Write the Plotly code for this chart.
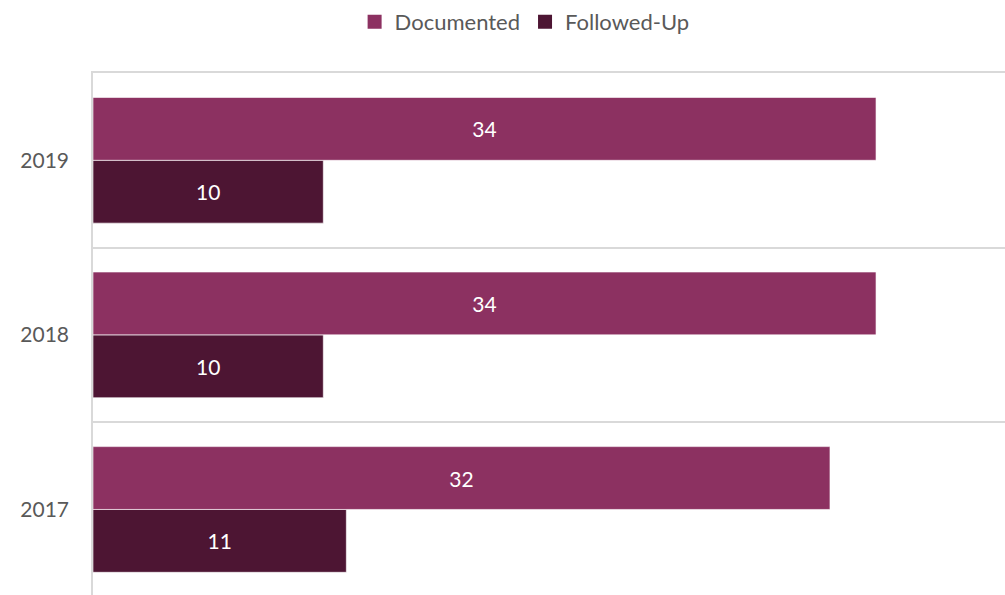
import plotly.graph_objects as go

years = ["2017", "2018", "2019"]
documented = [32, 34, 34]
followed_up = [11, 10, 10]

col_doc = "#8C3161"
col_fu = "#4D1533"
font_family = "Lato, 'Open Sans', sans-serif"

fig = go.Figure()
fig.add_trace(go.Bar(
    y=years, x=followed_up, orientation="h", name="Followed-Up",
    marker=dict(color=col_fu, line=dict(color="rgba(255,255,255,0.6)", width=1)),
    text=followed_up, textposition="inside", insidetextanchor="middle",
    textfont=dict(color="white", size=21, family=font_family),
    showlegend=False, hoverinfo="x+name",
))
fig.add_trace(go.Bar(
    y=years, x=documented, orientation="h", name="Documented",
    marker=dict(color=col_doc, line=dict(color="rgba(255,255,255,0.6)", width=1)),
    text=documented, textposition="inside", insidetextanchor="middle",
    textfont=dict(color="white", size=21, family=font_family),
    showlegend=False, hoverinfo="x+name",
))
# legend entries with larger square swatches
for name, col, rank in [("Documented", col_doc, 1), ("Followed-Up", col_fu, 2)]:
    fig.add_trace(go.Scatter(
        x=[None], y=[None], mode="markers", name=name,
        marker=dict(symbol="square", size=14, color=col),
        legendrank=rank, showlegend=True,
    ))

fig.update_layout(
    width=1005, height=595,
    margin=dict(l=93, r=0, t=73, b=0),
    barmode="group", bargap=0.28, bargroupgap=0,
    plot_bgcolor="white", paper_bgcolor="white",
    font=dict(family=font_family, color="#595959"),
    legend=dict(
        orientation="h", xref="container", x=0.522, xanchor="center",
        yref="container", y=0.963, yanchor="middle",
        font=dict(size=22, color="#595959"),
        itemwidth=30, tracegroupgap=0,
    ),
    xaxis=dict(range=[0, 39.6], showticklabels=False, showgrid=False,
               zeroline=False, showline=True, side="top", ticks="",
               linecolor="#D9D9D9", linewidth=1.5, fixedrange=True),
    yaxis=dict(type="category", categoryorder="array", categoryarray=years,
               range=[-0.49, 2.5],
               tickson="boundaries", showgrid=True, gridcolor="#D9D9D9", gridwidth=1.5,
               showline=True, linecolor="#D9D9D9", linewidth=1.5,
               ticks="", ticklabelstandoff=18,
               tickfont=dict(size=21, color="#595959"), fixedrange=True),
)

fig.write_html("out.html")
